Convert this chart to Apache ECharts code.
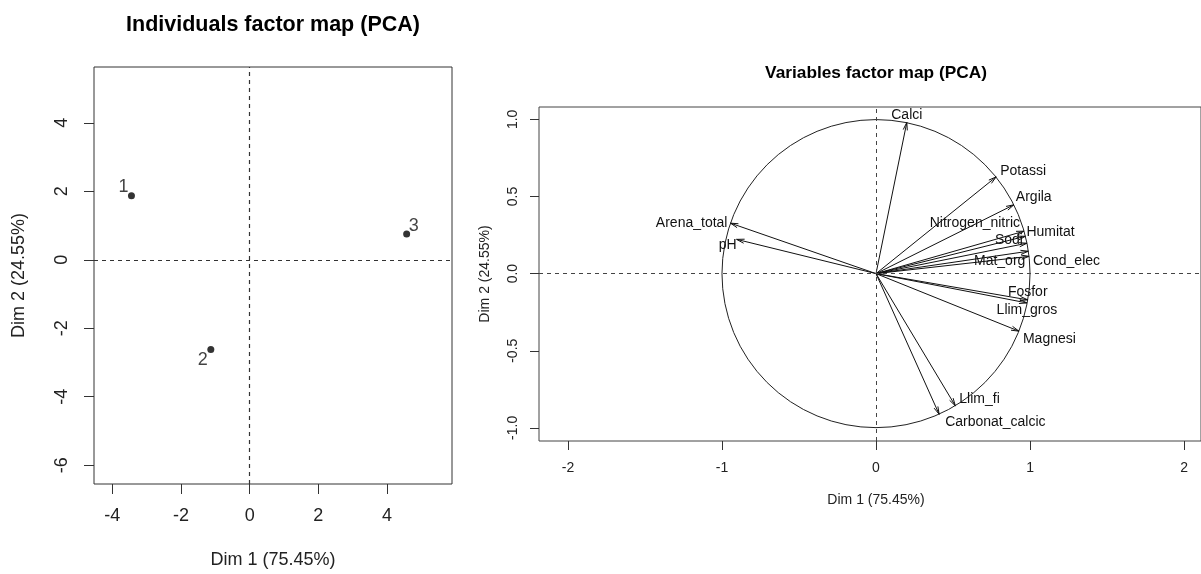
<!DOCTYPE html>
<html><head><meta charset="utf-8">
<script src="https://cdn.jsdelivr.net/npm/echarts@6/dist/echarts.min.js"></script>
<style>html,body{margin:0;padding:0;background:#fff}#c{width:1201px;height:574px}</style>
</head><body><div id="c"></div>
<script>
// ---- data ----
const individualNames = ['1', '2', '3'];
const individualDim1 = [-3.44, -1.13, 4.57];
const individualDim2 = [1.87, -2.62, 0.75];

const variableNames = ['Calci', 'Potassi', 'Argila', 'Nitrogen_nitric', 'Humitat', 'Sodi', 'Mat_org', 'Cond_elec',
  'Fosfor', 'Llim_gros', 'Magnesi', 'Llim_fi', 'Carbonat_calcic', 'Arena_total', 'pH'];
const variableDim1 = [0.20, 0.78, 0.895, 0.961, 0.97, 0.98, 0.989, 0.994, 0.985, 0.98, 0.928, 0.515, 0.41, -0.945, -0.905];
const variableDim2 = [0.98, 0.627, 0.446, 0.275, 0.242, 0.197, 0.145, 0.112, -0.17, -0.19, -0.373, -0.857, -0.912, 0.327, 0.222];

const indTicksX = [-4, -2, 0, 2, 4];
const indTicksY = [-6, -4, -2, 0, 2, 4];
const varTicksX = [-2, -1, 0, 1, 2];
const varTicksY = [-1, -0.5, 0, 0.5, 1];
const correlationCircle = [[0, 0, 1]];

const dim1Label = 'Dim 1 (75.45%)';
const dim2Label = 'Dim 2 (24.55%)';

// ---- style (label placement) ----
const indLabelOffset = { '1': [-8, -9], '2': [-8, 11], '3': [7, -8] };
const varLabelPlace = {
  'Calci': [0, -7, 'center'], 'Potassi': [4, -6, 'left'], 'Argila': [2, -8, 'left'],
  'Nitrogen_nitric': [-4, -8, 'right'], 'Humitat': [1, -4, 'left'], 'Sodi': [-4, -3, 'right'],
  'Mat_org': [-3, 10, 'right'], 'Cond_elec': [4, 5, 'left'], 'Fosfor': [0, -8, 'center'],
  'Llim_gros': [0, 7, 'center'], 'Magnesi': [4, 8, 'left'], 'Llim_fi': [4, -7, 'left'],
  'Carbonat_calcic': [6, 8, 'left'], 'Arena_total': [-3, 0, 'right'], 'pH': [0, 6, 'right']
};

const FONT = '"Liberation Sans", Arial, sans-serif';
const chart = echarts.init(document.getElementById('c'), null, { renderer: 'canvas' });

const indData = individualNames.map((n, i) => ({
  value: [individualDim1[i], individualDim2[i]], name: n,
  label: { offset: indLabelOffset[n] }
}));
const varData = variableNames.map((n, i) => [variableDim1[i], variableDim2[i]]);

const dashed = { color: '#333', width: 1.2, type: [4, 4] };

const option = {
  animation: false,
  backgroundColor: '#fff',
  graphic: [
    { type: 'text', x: 273, y: 25, style: { text: 'Individuals factor map (PCA)', font: 'bold 21.5px ' + FONT, fill: '#000', align: 'center', verticalAlign: 'middle' } },
    { type: 'text', x: 876, y: 73, style: { text: 'Variables factor map (PCA)', font: 'bold 17.3px ' + FONT, fill: '#000', align: 'center', verticalAlign: 'middle' } }
  ],
  grid: [
    { left: 94, top: 67, width: 358, height: 419, show: true, borderColor: '#333', borderWidth: 1, backgroundColor: 'transparent' },
    { left: 539, top: 107, width: 662, height: 334, show: true, borderColor: '#444', borderWidth: 1, backgroundColor: 'transparent' }
  ],
  xAxis: [
    {
      type: 'value', gridIndex: 0, min: -4.53, max: 5.89,
      axisLine: { show: false, onZero: false }, splitLine: { show: false },
      axisTick: { show: true, length: 10, customValues: indTicksX, lineStyle: { color: '#333' } },
      axisLabel: { customValues: indTicksX, margin: 23, fontSize: 18, fontFamily: FONT, color: '#222' },
      name: dim1Label, nameLocation: 'middle', nameGap: 67,
      nameTextStyle: { fontSize: 18, fontFamily: FONT, color: '#222', verticalAlign: 'top' }
    },
    {
      type: 'value', gridIndex: 1, min: -2.188, max: 2.11,
      axisLine: { show: false, onZero: false }, splitLine: { show: false },
      axisTick: { show: true, length: 9, customValues: varTicksX, lineStyle: { color: '#333' } },
      axisLabel: { customValues: varTicksX, margin: 20, fontSize: 14, fontFamily: FONT, color: '#222' },
      name: dim1Label, nameLocation: 'start', nameGap: -337,
      nameTextStyle: { fontSize: 14, fontFamily: FONT, color: '#222', align: 'center', verticalAlign: 'top', padding: [52, 0, 0, 0] }
    }
  ],
  yAxis: [
    {
      type: 'value', gridIndex: 0, min: -6.55, max: 5.63,
      axisLine: { show: false, onZero: false }, splitLine: { show: false },
      axisTick: { show: true, length: 10, customValues: indTicksY, lineStyle: { color: '#333' } },
      axisLabel: { customValues: indTicksY, margin: 23, rotate: 90, fontSize: 18, fontFamily: FONT, color: '#222' },
      name: dim2Label, nameLocation: 'middle', nameGap: 66,
      nameTextStyle: { fontSize: 18, fontFamily: FONT, color: '#222' }
    },
    {
      type: 'value', gridIndex: 1, min: -1.085, max: 1.08,
      axisLine: { show: false, onZero: false }, splitLine: { show: false },
      axisTick: { show: true, length: 9, customValues: varTicksY, lineStyle: { color: '#333' } },
      axisLabel: { customValues: varTicksY, margin: 19, rotate: 90, fontSize: 14, fontFamily: FONT, color: '#222',
        formatter: v => v.toFixed(1) },
      name: dim2Label, nameLocation: 'middle', nameGap: 47,
      nameTextStyle: { fontSize: 14, fontFamily: FONT, color: '#222' }
    }
  ],
  series: [
    {
      type: 'scatter', xAxisIndex: 0, yAxisIndex: 0, data: indData,
      symbol: 'circle', symbolSize: 7, itemStyle: { color: '#000' },
      label: { show: true, position: 'inside', formatter: p => p.name, fontSize: 18, fontFamily: FONT, color: '#111' },
      markLine: {
        silent: true, symbol: 'none', label: { show: false }, lineStyle: dashed,
        data: [{ xAxis: 0 }, { yAxis: 0 }]
      }
    },
    {
      type: 'custom', xAxisIndex: 1, yAxisIndex: 1, data: correlationCircle, silent: true,
      renderItem: function (params, api) {
        const c = api.coord([api.value(0), api.value(1)]);
        const r = api.size([api.value(2), 0])[0];
        return { type: 'circle', shape: { cx: c[0], cy: c[1], r: r }, style: { fill: 'none', stroke: '#222', lineWidth: 1 } };
      },
      markLine: {
        silent: true, symbol: 'none', label: { show: false }, lineStyle: { color: '#444', width: 1, type: [4, 4] },
        data: [{ xAxis: 0 }, { yAxis: 0 }]
      }
    },
    {
      type: 'custom', xAxisIndex: 1, yAxisIndex: 1, data: varData, silent: true,
      renderItem: function (params, api) {
        const o = api.coord([0, 0]);
        const p = api.coord([api.value(0), api.value(1)]);
        const ang = Math.atan2(p[1] - o[1], p[0] - o[0]);
        const L = 8, a = 15 * Math.PI / 180;
        const h1 = [p[0] - L * Math.cos(ang - a), p[1] - L * Math.sin(ang - a)];
        const h2 = [p[0] - L * Math.cos(ang + a), p[1] - L * Math.sin(ang + a)];
        const name = variableNames[params.dataIndex];
        const lp = varLabelPlace[name];
        return {
          type: 'group', children: [
            { type: 'line', shape: { x1: o[0], y1: o[1], x2: p[0], y2: p[1] }, style: { stroke: '#111', lineWidth: 1 } },
            { type: 'polyline', shape: { points: [h1, p, h2] }, style: { stroke: '#111', lineWidth: 1, fill: null } },
            { type: 'text', x: p[0] + lp[0], y: p[1] + lp[1],
              style: { text: name, align: lp[2], verticalAlign: 'middle', fontSize: 14, fontFamily: FONT, fill: '#111' } }
          ]
        };
      }
    }
  ]
};
chart.setOption(option);
</script></body></html>
